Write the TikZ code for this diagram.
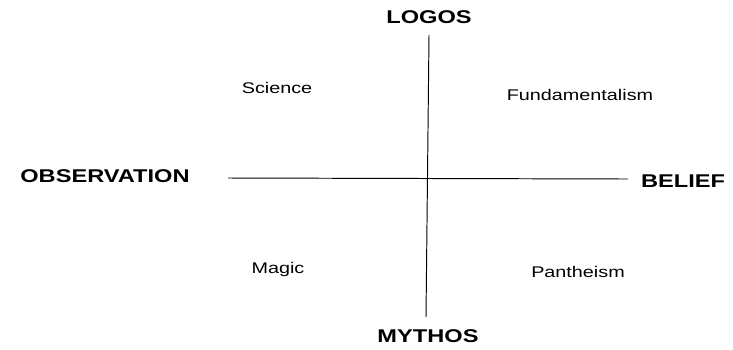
\documentclass[tikz,border=0pt]{standalone}
\usepackage{fontspec}
\setmainfont{Liberation Sans}
\newfontfamily\widesans[FakeStretch=1.28]{Liberation Sans}
\usepackage{tikz}
\usetikzlibrary{positioning,calc}

\begin{document}
\begin{tikzpicture}[x=0.02cm, y=-0.02cm,
  pole/.style    = {font=\widesans\fontsize{10.5}{12}\selectfont\bfseries, inner sep=1pt},
  quadrant/.style = {font=\widesans\fontsize{8.8}{10}\selectfont, inner sep=1pt},
  axis/.style    = {line width=0.55pt}
]
\useasboundingbox (0,0) rectangle (733,349);

% poles of the two axes
\node[pole] (logos)  at (429,17)  {LOGOS};
\node[pole] (mythos) at (428,336) {MYTHOS};
\node[pole] (obs)    at (105,176) {OBSERVATION};
\node[pole] (belief) at (683,181) {BELIEF};

% quadrant labels
\node[quadrant] (science) at (277,88)  {Science};
\node[quadrant] (fund)    at (580,95)  {Fundamentalism};
\node[quadrant] (magic)   at (278,269) {Magic};
\node[quadrant] (panth)   at (578,272) {Pantheism};

% axis end points
\coordinate (vtop) at (429,35);
\coordinate (vbot) at (426,317);
\coordinate (hl)   at (228,178);
\coordinate (hr)   at (628,179);

% axes
\draw[axis] (vtop) -- (vbot);
\draw[axis] (hl) -- (hr);

\end{tikzpicture}
\end{document}
